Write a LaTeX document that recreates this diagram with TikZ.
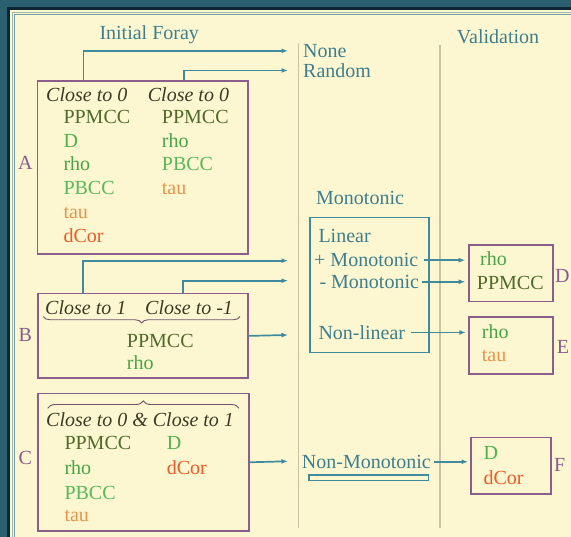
\documentclass[tikz,border=0pt]{standalone}
\usepackage{fontspec}
\setmainfont{Liberation Serif}
\usetikzlibrary{arrows.meta,decorations.pathreplacing}

\definecolor{slate}{HTML}{2B6070}
\definecolor{navy}{HTML}{0D2530}
\definecolor{paper}{HTML}{FCF7D0}
\definecolor{ruleA}{HTML}{9CB9B2}
\definecolor{ruleB}{HTML}{6E9DA6}
\definecolor{flow}{HTML}{3F8A9C}
\definecolor{heading}{HTML}{3E7E8E}
\definecolor{frame}{HTML}{8C5E8C}
\definecolor{divider}{HTML}{CBC3A2}
\definecolor{ink}{HTML}{3C3A25}
\definecolor{letter}{HTML}{8A5A8E}
\definecolor{cPPMCC}{HTML}{4F6A2A}
\definecolor{cD}{HTML}{4FB24F}
\definecolor{cRho}{HTML}{47A447}
\definecolor{cPBCC}{HTML}{58B85A}
\definecolor{cTau}{HTML}{E8934A}
\definecolor{cDCor}{HTML}{EC5A2A}

\tikzset{
  txt/.style={inner sep=0pt, anchor=base west, font=\fontsize{20}{24}\selectfont},
  head/.style={txt, text=heading},
  cond/.style={txt, text=ink, font=\fontsize{20}{24}\selectfont\itshape},
  tag/.style={txt, text=letter},
  mPPMCC/.style={txt, text=cPPMCC},
  mD/.style={txt, text=cD},
  mRho/.style={txt, text=cRho},
  mPBCC/.style={txt, text=cPBCC},
  mTau/.style={txt, text=cTau},
  mDCor/.style={txt, text=cDCor},
  box/.style={draw=frame, line width=1.8pt, anchor=north west, inner sep=0pt},
  monobox/.style={draw=flow, line width=1.8pt, anchor=north west, inner sep=0pt},
  conn/.style={draw=flow, line width=1.7pt, -{Latex[length=6.5pt,width=5pt]}},
  divline/.style={draw=divider, line width=1.5pt},
  bracelook/.style={draw=frame!70!ink, line width=0.9pt, decorate},
}

\begin{document}
\begin{tikzpicture}[x=1pt, y=-1pt]
\useasboundingbox (0,0) rectangle (571,537);

% slide frame
\fill[slate] (0,0) rectangle (571,537);
\fill[navy] (7,7.5) rectangle (571,537);
\fill[paper] (10,10.5) rectangle (571,537);
\draw[ruleA, line width=1pt] (12.5,537) -- (12.5,12.5) -- (571,12.5);
\draw[ruleB, line width=1pt] (14.8,537) -- (14.8,14.8) -- (571,14.8);

% column dividers
\draw[divline] (298.5,43.3) -- (298.5,528.3);
\draw[divline] (440,45) -- (440,528.3);

% headings
\node[head] (initial) at (99.3,40) {Initial Foray};
\node[head] (valid) at (456.7,43.3) {Validation};
\node[head] (none) at (303,57.3) {None};
\node[head] (random) at (303,77.3) {Random};
\node[head] (mono) at (316,205) {Monotonic};

% box A
\node[box, minimum width=210.5pt, minimum height=172.5pt] (boxA) at (36.5,80.5) {};
\node[tag] (labA) at (18,170) {A};
\node[cond] (aHeadL) at (46,101.5) {Close to 0};
\node[cond] (aHeadR) at (147.7,101.5) {Close to 0};
\node[mPPMCC] (a1) at (63.3,124) {PPMCC};
\node[mD]     (a2) at (63.3,147.7) {D};
\node[mRho]   (a3) at (63.3,171) {rho};
\node[mPBCC]  (a4) at (63.3,195) {PBCC};
\node[mTau]   (a5) at (63.3,219) {tau};
\node[mDCor]  (a6) at (63.3,242.7) {dCor};
\node[mPPMCC] (a7) at (161.7,124) {PPMCC};
\node[mRho]   (a8) at (161.7,147.7) {rho};
\node[mPBCC]  (a9) at (161.7,171) {PBCC};
\node[mTau]   (a10) at (161.7,195) {tau};

% box B
\node[box, minimum width=210pt, minimum height=84.6pt] (boxB) at (36.7,292.7) {};
\node[tag] (labB) at (18.3,341.7) {B};
\node[cond] (bHeadL) at (45,315) {Close to 1};
\node[cond] (bHeadR) at (145,315) {Close to -1};
\draw[bracelook, decoration={brace, amplitude=6.5pt}] (240,316.5) -- (43.3,316.5);
\node[mPPMCC] (b1) at (126.7,347.3) {PPMCC};
\node[mRho]   (b2) at (126.7,370) {rho};

% box C
\node[box, minimum width=211.6pt, minimum height=137.3pt] (boxC) at (36.7,392.7) {};
\node[tag] (labC) at (18.3,465) {C};
\draw[bracelook, decoration={brace, amplitude=7.5pt}] (47.7,408.3) -- (239,408.3);
\node[cond] (cHead) at (46,426.7) {Close to 0 \& Close to 1};
\node[mPPMCC] (c1) at (64.3,450) {PPMCC};
\node[mD]     (c2) at (166.7,450) {D};
\node[mRho]   (c3) at (64.3,475) {rho};
\node[mDCor]  (c4) at (166.7,475) {dCor};
\node[mPBCC]  (c5) at (64.3,499.3) {PBCC};
\node[mTau]   (c6) at (64.3,521.7) {tau};

% monotonic group
\node[monobox, minimum width=119pt, minimum height=135pt] (monoBox) at (309.3,216.7) {};
\node[head] (linear) at (318.3,242.3) {Linear};
\node[head] (plusMono) at (314,266.7) {+ Monotonic};
\node[head] (minusMono) at (319.3,288.3) {- Monotonic};
\node[head] (nonLinear) at (318.3,339.3) {Non-linear};
\node[head] (nonMono) at (301.7,468.3) {Non-Monotonic};
\node[monobox, line width=1.3pt, minimum width=119.4pt, minimum height=5.7pt] (nmBar) at (308.3,474.3) {};

% validation boxes
\node[box, minimum width=84pt, minimum height=56.4pt] (boxD) at (467.7,244.3) {};
\node[mRho]   (d1) at (480,266) {rho};
\node[mPPMCC] (d2) at (476.7,290) {PPMCC};
\node[tag] (labD) at (555,283) {D};

\node[box, minimum width=83.4pt, minimum height=57.3pt] (boxE) at (468.3,316) {};
\node[mRho] (e1) at (481.7,339) {rho};
\node[mTau] (e2) at (481.7,361.7) {tau};
\node[tag] (labE) at (556.7,354) {E};

\node[box, minimum width=80pt, minimum height=56.6pt] (boxF) at (470,436.7) {};
\node[mD]    (f1) at (483.3,460) {D};
\node[mDCor] (f2) at (483.3,484.3) {dCor};
\node[tag] (labF) at (554,471.7) {F};

% arrow end points in the middle column
\coordinate (inPlus) at (288,260.7);
\coordinate (inMinus) at (288,280.7);
\coordinate (inLinear) at (288,335);
\coordinate (inNonMono) at (288,461.3);

% connectors
\draw[conn] ([xshift=47pt]boxA.north west) |- ([xshift=-15pt]none.west);
\draw[conn] ([xshift=147.8pt]boxA.north west) |- ([xshift=-15pt]random.west);
\draw[conn] ([xshift=46.6pt]boxB.north west) |- (inPlus);
\draw[conn] ([xshift=146.6pt]boxB.north west) |- (inMinus);
\draw[conn] (boxB.east) -- (inLinear);
\draw[conn] (boxC.east) -- (inNonMono);

\draw[conn, shorten >=2.5pt] ([xshift=6pt]plusMono.east) -- (plusMono.east -| boxD.west);
\draw[conn, shorten >=2.5pt] ([xshift=3pt]minusMono.east) -- (minusMono.east -| boxD.west);
\draw[conn, shorten >=2.5pt] ([xshift=6pt]nonLinear.east) -- (nonLinear.east -| boxE.west);
\draw[conn, shorten >=2pt] ([xshift=3pt]nonMono.east) -- (nonMono.east -| boxF.west);
\end{tikzpicture}
\end{document}
